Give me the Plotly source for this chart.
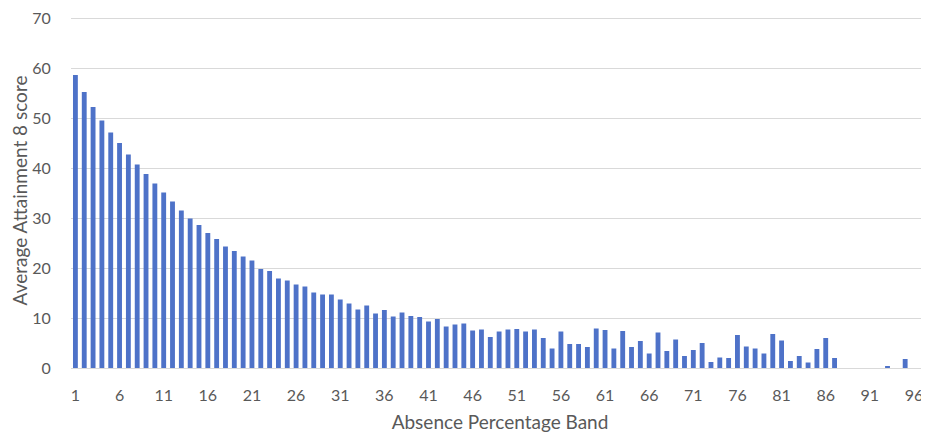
import plotly.graph_objects as go

bands = list(range(1, 96))
scores = [
    58.6, 55.2, 52.2, 49.5, 47.1, 45.0, 42.7, 40.7, 38.8, 36.9,
    35.1, 33.3, 31.5, 29.9, 28.6, 27.0, 25.8, 24.3, 23.4, 22.3,
    21.5, 19.8, 19.4, 17.9, 17.5, 16.7, 16.3, 15.1, 14.7, 14.7,
    13.7, 12.9, 11.7, 12.5, 10.9, 11.6, 10.3, 11.1, 10.4, 10.2,
    9.3, 9.8, 8.3, 8.7, 8.9, 7.5, 7.7, 6.2, 7.3, 7.7,
    7.8, 7.3, 7.7, 6.0, 3.9, 7.3, 4.8, 4.8, 4.2, 7.9,
    7.6, 3.9, 7.4, 4.2, 5.4, 2.9, 7.1, 3.4, 5.7, 2.4,
    3.6, 5.0, 1.2, 2.1, 2.0, 6.6, 4.3, 3.9, 2.9, 6.8,
    5.5, 1.4, 2.4, 1.1, 3.8, 6.0, 2.0, 0, 0, 0,
    0, 0, 0.3, 0, 1.8,
]
tick_labels = list(range(1, 97, 5))
y_ticks = [0, 10, 20, 30, 40, 50, 60, 70]

font_family = "Lato, 'Open Sans', sans-serif"
grey = "#595959"

fig = go.Figure(
    go.Bar(x=bands, y=scores, marker=dict(color="#4E72C8", line=dict(width=0)))
)
# the page body has an 8px default margin, so the figure is offset by 8px
fig.update_layout(
    width=921,
    height=427,
    margin=dict(l=63, r=0, t=5, b=67, autoexpand=False),
    paper_bgcolor="white",
    plot_bgcolor="white",
    bargap=0.45,
    showlegend=False,
    font=dict(family=font_family, color=grey, size=16),
)
fig.update_xaxes(
    automargin=False,
    range=[0.5, 97.7],
    tickmode="array",
    tickvals=tick_labels,
    ticktext=[str(v) for v in tick_labels],
    showgrid=False,
    showline=False,
    zeroline=False,
    ticks="outside",
    ticklen=13,
    tickcolor="rgba(0,0,0,0)",
    tickfont=dict(size=16, color=grey),
    ticklabeloverflow="allow",
    title=dict(text="Absence Percentage Band", font=dict(size=19, color=grey), standoff=12),
)
fig.update_yaxes(
    automargin=False,
    range=[0, 71],
    tickmode="array",
    tickvals=y_ticks,
    ticktext=[str(v) for v in y_ticks],
    showgrid=True,
    gridcolor="#D9D9D9",
    gridwidth=1,
    zeroline=True,
    zerolinecolor="#D9D9D9",
    zerolinewidth=1,
    showline=False,
    ticks="outside",
    ticklen=16,
    tickcolor="rgba(0,0,0,0)",
    tickfont=dict(size=16, color=grey),
    ticklabeloverflow="allow",
    title=dict(text="Average Attainment 8 score", font=dict(size=19, color=grey), standoff=4),
)
fig.write_html("out.html")
